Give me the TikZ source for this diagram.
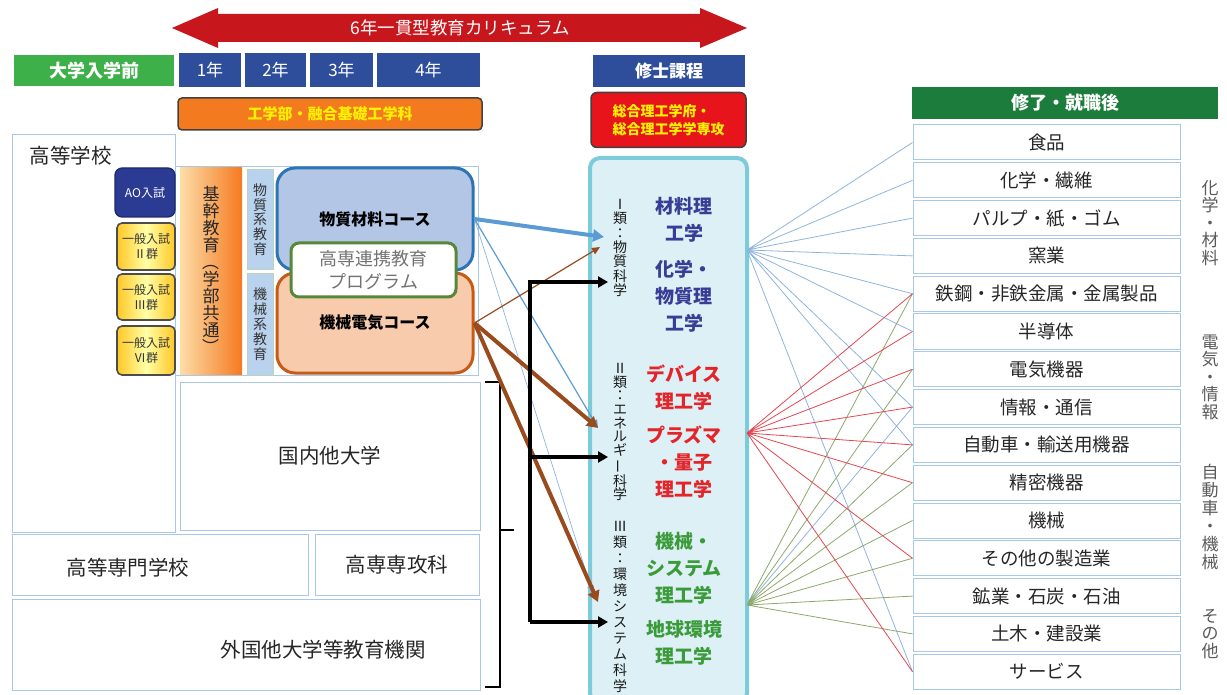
\documentclass[tikz,border=0pt]{standalone}
\usepackage{fontspec}
\setmainfont{Noto Sans CJK JP}
\usetikzlibrary{arrows.meta}

\definecolor{arrowred}{HTML}{C8161D}
\definecolor{yearblue}{HTML}{2E4E9C}
\definecolor{pregreen}{HTML}{3DB04A}
\definecolor{fingreen}{HTML}{1C7C3B}
\definecolor{frameblue}{HTML}{A9C8E8}
\definecolor{matfill}{HTML}{B3C6E6}
\definecolor{matline}{HTML}{2D74B5}
\definecolor{mechfill}{HTML}{F8CBAD}
\definecolor{mechline}{HTML}{C65B16}
\definecolor{kosengreen}{HTML}{56883A}
\definecolor{masterfill}{HTML}{DDF0F5}
\definecolor{masterline}{HTML}{7CCBDA}
\definecolor{deptblue}{HTML}{3A3D96}
\definecolor{deptred}{HTML}{E42428}
\definecolor{deptgreen}{HTML}{3B9B3B}
\definecolor{linkblue}{HTML}{8FB4DE}
\definecolor{linkred}{HTML}{E5454F}
\definecolor{linkgreen}{HTML}{8DA86C}
\definecolor{brownarrow}{HTML}{9A4B1E}
\definecolor{bluearrow}{HTML}{5B9BD5}
\definecolor{aoblue}{HTML}{2B3A92}
\definecolor{examyellow}{HTML}{FFC726}
\definecolor{facorange}{HTML}{F47A20}
\definecolor{gradred}{HTML}{E8141B}
\definecolor{textyellow}{HTML}{FFF200}
\definecolor{edublue}{HTML}{B9D3EE}
\definecolor{kikanlight}{HTML}{FDDDA8}
\definecolor{grayside}{HTML}{5A5A5A}

\tikzset{
  headbox/.style={rectangle, inner sep=0pt, text=white},
  yearbox/.style={headbox, fill=yearblue, minimum height=34, font=\fontsize{17}{17}\selectfont},
  orgbox/.style={rectangle, draw=frameblue, line width=1pt, inner sep=0pt, text=black!85},
  job/.style={orgbox, minimum width=267, minimum height=35, font=\fontsize{18.5}{18.5}\selectfont},
  exam/.style={rectangle, rounded corners=5, draw=black!70, line width=1.6pt,
    left color=examyellow, right color=examyellow, middle color=yellow!35,
    inner sep=0pt, minimum width=58, align=center, text=black!80,
    font=\fontsize{12}{15}\selectfont},
  edubox/.style={rectangle, draw=frameblue!80!yellow, fill=edublue, inner sep=0pt,
    minimum width=26, align=center, text=black!80},
  course/.style={rectangle, rounded corners=18, line width=3pt, inner sep=0pt,
    minimum width=196, font=\bfseries\fontsize{16}{16}\selectfont},
  vlabel/.style={align=center, inner sep=0pt, text=black!90},
  dept/.style={align=center, inner sep=0pt, font=\bfseries\fontsize{19}{27}\selectfont},
  side/.style={align=center, inner sep=0pt, text=grayside, font=\fontsize{17}{17.5}\selectfont},
  link/.style={line width=0.8pt},
  fat/.style={line width=4pt, -{Triangle[length=11pt, width=12pt]}},
  thin/.style={line width=1.2pt, -{Triangle[length=8pt, width=7pt]}},
  blk/.style={line width=3.2pt, black, -{Triangle[length=10pt, width=11pt]}}
}

\begin{document}
\begin{tikzpicture}[x=1pt, y=-1pt]
  \useasboundingbox (0,0) rectangle (1227,695);

  % top row
  \fill[arrowred] (172,28) -- (218,8) -- (218,14) -- (700,14) -- (700,8) -- (747,28)
    -- (700,48) -- (700,42) -- (218,42) -- (218,48) -- cycle;
  \node[text=white, font=\fontsize{17.5}{17.5}\selectfont] (curr) at (460,28) {6年一貫型教育カリキュラム};

  \node[headbox, fill=pregreen, minimum width=160, minimum height=31, font=\bfseries\fontsize{18}{18}\selectfont] (pre) at (94,71) {大学入学前};
  \node[yearbox, minimum width=62] (y1) at (210,70) {1年};
  \node[yearbox, minimum width=61] (y2) at (275.5,70) {2年};
  \node[yearbox, minimum width=63] (y3) at (341.5,70) {3年};
  \node[yearbox, minimum width=103] (y4) at (428.5,70) {4年};
  \node[yearbox, minimum width=152, minimum height=32, font=\bfseries\fontsize{17}{17}\selectfont] (msc) at (669,71) {修士課程};

  \node[rectangle, rounded corners=4, draw=black!75, line width=1.5pt, fill=facorange, inner sep=0pt,
    minimum width=304, minimum height=32, text=textyellow, font=\bfseries\fontsize{15}{15}\selectfont] (fac) at (330,114) {工学部・融合基礎工学科};
  \node[rectangle, rounded corners=6, draw=black!75, line width=1.5pt, fill=gradred, inner sep=0pt,
    minimum width=155, minimum height=55, align=left, text=textyellow, font=\bfseries\fontsize{14}{18}\selectfont] (grad) at (668.5,120) {総合理工学府・\\総合理工学学専攻};
  \node[headbox, fill=fingreen, minimum width=306, minimum height=32, font=\bfseries\fontsize{18}{18}\selectfont] (fin) at (1065,103) {修了・就職後};

  % left side
  \node[orgbox, minimum width=163, minimum height=397] (hs) at (93.5,333.5) {};
  \node[text=black!85, font=\fontsize{20.5}{20.5}\selectfont, anchor=west] (hstitle) at (26,156) {高等学校};
  \node[orgbox, minimum width=303, minimum height=208] (crs) at (326.5,271) {};

  \node[rectangle, rounded corners=7, draw=aoblue!70!black, line width=1.2pt, fill=aoblue, inner sep=0pt,
    minimum width=60, minimum height=49, text=white, font=\fontsize{12}{12}\selectfont] (ao) at (145,192.5) {AO入試};
  \node[exam, minimum height=47] (ex2) at (146,246.5) {一般入試\\Ⅱ群};
  \node[exam, minimum height=46] (ex3) at (146,297) {一般入試\\Ⅲ群};
  \node[exam, minimum height=49] (ex6) at (146,350.5) {一般入試\\Ⅵ群};

  \node[rectangle, inner sep=0pt, left color=kikanlight, right color=facorange, minimum width=62, minimum height=206,
    align=center, text=black!85, font=\fontsize{17}{17}\selectfont] (kikan) at (211,271)
    {基\\幹\\教\\育\\\rotatebox[origin=c]{-90}{（}\\学\\部\\共\\通\\\rotatebox[origin=c]{-90}{）}};
  \node[edubox, minimum height=100, font=\fontsize{14}{14.6}\selectfont] (edumat) at (260,219.5) {物\\質\\系\\教\\育};
  \node[edubox, minimum height=102, font=\fontsize{14}{15}\selectfont] (edumech) at (260,324) {機\\械\\系\\教\\育};

  \node[course, fill=matfill, draw=matline, minimum height=102] (mat) at (375,219) {物質材料コース};
  \node[course, fill=mechfill, draw=mechline, minimum height=100] (mech) at (375,323) {\raisebox{-10pt}{機械電気コース}};
  \node[rectangle, rounded corners=8, draw=kosengreen, line width=3pt, fill=white, inner sep=0pt,
    minimum width=165, minimum height=54, align=center, text=black!55, font=\fontsize{18}{23}\selectfont] (kprog) at (373.5,270) {高専連携教育\\プログラム};

  \node[orgbox, minimum width=300, minimum height=148, font=\fontsize{20.5}{20.5}\selectfont] (dom) at (330,456) {国内他大学};
  \node[orgbox, minimum width=296, minimum height=61] (kosen) at (160,564.5) {};
  \node[text=black!85, font=\fontsize{20.5}{20.5}\selectfont] (kosentext) at (128,568) {高等専門学校};
  \node[orgbox, minimum width=164, minimum height=61, font=\fontsize{20.5}{20.5}\selectfont] (adv) at (397,564.5) {高専専攻科};
  \node[orgbox, minimum width=468, minimum height=91] (abroad) at (246,644.5) {};
  \node[text=black!85, font=\fontsize{20.5}{20.5}\selectfont] (abroadtext) at (323,650) {外国他大学等教育機関};

  % bracket
  \draw[line width=2.5pt] (485,382) -- (500,382) -- (500,687) -- (485,687);
  \draw[line width=2.5pt] (500,530) -- (514,530);

  % master course
  \node[rectangle, rounded corners=10, draw=masterline, line width=4pt, fill=masterfill, inner sep=0pt,
    minimum width=157, minimum height=545] (master) at (668.5,430.5) {};

  \coordinate (t1) at (604,237);
  \coordinate (t1b) at (600,247);
  \coordinate (t2) at (598,428);
  \coordinate (t3) at (598,602);
  \coordinate (t3b) at (593,594);
  \coordinate (bk1) at (530,282);
  \coordinate (bk2) at (530,457);
  \coordinate (bk3) at (530,622);
  \coordinate (c1) at (608,282);
  \coordinate (c2) at (608,457);
  \coordinate (c3) at (608,622);

  \draw[thin, linkblue, line width=0.7pt] (mat.east) -- (t3b);
  \draw[thin, bluearrow] (mat.east) -- (t2);
  \draw[thin, brownarrow] (mech.east) -- (t1b);
  \draw[fat, bluearrow] (mat.east) -- (t1);
  \draw[fat, brownarrow] (mech.east) -- (t2);
  \draw[fat, brownarrow] (mech.east) -- (t3);
  \draw[blk] (bk3) -- (bk1) -- (c1);
  \draw[blk] (bk2) -- (c2);
  \draw[blk] (bk3) -- (c3);

  \node[vlabel, font=\fontsize{14}{14.3}\selectfont] (cls1) at (620,248) {Ⅰ\\類\\：\\物\\質\\科\\学};
  \node[vlabel, font=\fontsize{14}{13.7}\selectfont] (cls2) at (620,432) {Ⅱ\\類\\：\\エ\\ネ\\ル\\ギ\\\rotatebox[origin=c]{90}{ー}\\科\\学};
  \node[vlabel, font=\fontsize{14}{16}\selectfont] (cls3) at (620,607) {Ⅲ\\類\\：\\環\\境\\シ\\ス\\テ\\ム\\科\\学};

  \node[dept, text=deptblue] (d1) at (684,220) {材料理\\工学};
  \node[dept, text=deptblue] (d2) at (684,296) {化学・\\物質理\\工学};
  \node[dept, text=deptred] (d3) at (684,388) {デバイス\\理工学};
  \node[dept, text=deptred] (d4) at (684,462) {プラズマ\\・量子\\理工学};
  \node[dept, text=deptgreen] (d5) at (684,568) {機械・\\システム\\理工学};
  \node[dept, text=deptgreen] (d6) at (684,643) {地球環境\\理工学};

  % jobs
  \node[job] (j0) at (1046.5,142.5) {食品};
  \node[job] (j1) at (1046.5,180.3) {化学・繊維};
  \node[job] (j2) at (1046.5,218.1) {パルプ・紙・ゴム};
  \node[job] (j3) at (1046.5,255.9) {窯業};
  \node[job] (j4) at (1046.5,293.7) {鉄鋼・非鉄金属・金属製品};
  \node[job] (j5) at (1046.5,331.5) {半導体};
  \node[job] (j6) at (1046.5,369.3) {電気機器};
  \node[job] (j7) at (1046.5,407.1) {情報・通信};
  \node[job] (j8) at (1046.5,444.9) {自動車・輸送用機器};
  \node[job] (j9) at (1046.5,482.7) {精密機器};
  \node[job] (j10) at (1046.5,520.5) {機械};
  \node[job] (j11) at (1046.5,558.3) {その他の製造業};
  \node[job] (j12) at (1046.5,596.1) {鉱業・石炭・石油};
  \node[job] (j13) at (1046.5,633.9) {土木・建設業};
  \node[job] (j14) at (1046.5,671.7) {サービス};

  \coordinate (p1) at (747,250);
  \coordinate (p2) at (747,433);
  \coordinate (p3) at (747,605);

  \draw[link, linkblue] (p1) -- (j0.west) (p1) -- (j1.west) (p1) -- (j2.west) (p1) -- (j3.west);
  \draw[link, linkblue] (p1) -- (j4.west) (p1) -- (j5.west) (p1) -- (j7.west) (p1) -- (j8.west);
  \draw[link, linkblue] (p1) -- (j14.west) (p3) -- (j7.west);
  \draw[link, linkgreen] (p3) -- (j4.west) (p3) -- (j6.west) (p3) -- (j8.west) (p3) -- (j9.west);
  \draw[link, linkgreen] (p3) -- (j10.west) (p3) -- (j11.west) (p3) -- (j12.west) (p3) -- (j13.west);
  \draw[link, linkred] (p2) -- (j4.west) (p2) -- (j5.west) (p2) -- (j6.west) (p2) -- (j7.west);
  \draw[link, linkred] (p2) -- (j8.west) (p2) -- (j9.west) (p2) -- (j11.west) (p2) -- (j14.west);

  \node[side] (s1) at (1210,223) {化\\学\\・\\材\\料};
  \node[side] (s2) at (1210,377) {電\\気\\・\\情\\報};
  \node[side, font=\fontsize{17}{18}\selectfont] (s3) at (1210,517) {自\\動\\車\\・\\機\\械};
  \node[side] (s4) at (1210,634) {そ\\の\\他};
\end{tikzpicture}
\end{document}
